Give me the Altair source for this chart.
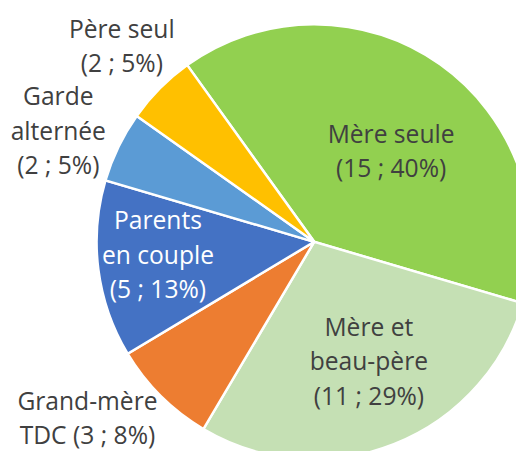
import altair as alt
import pandas as pd

categories = ["Mère seule", "Mère et beau-père", "Grand-mère TDC", "Parents en couple", "Garde alternée", "Père seul"]
label_names = ["Mère seule", "Mère et\nbeau-père", "Grand-mère\nTDC", "Parents\nen couple", "Garde\nalternée", "Père seul"]
counts = [15, 11, 3, 5, 2, 2]
percents = [40, 29, 8, 13, 5, 5]
colors = ["#92D050", "#C5E0B4", "#ED7D31", "#4472C4", "#5B9BD5", "#FFC000"]

labels = []
for name, c, p in zip(label_names, counts, percents):
    if name == "Grand-mère\nTDC":
        labels.append(f"Grand-mère\nTDC ({c} ; {p}%)")
    else:
        labels.append(f"{name}\n({c} ; {p}%)")

df = pd.DataFrame({
    "cat": categories,
    "n": counts,
    "idx": list(range(len(categories))),
    "label": labels,
})

PI = 3.141592653589793
start = -35.7 * PI / 180
total = sum(counts)
theta_scale = alt.Scale(domain=[0, total], range=[start, start + 2 * PI], nice=False, zero=False)

CX, CY, R = 311, 234, 221
FONT = "Open Sans"
FS = 25

base = alt.Chart(df).transform_window(
    cum="sum(n)", sort=[alt.SortField("idx")], frame=[None, 0]
).transform_calculate(
    t0="datum.cum - datum.n", tmid="datum.cum - datum.n / 2"
)

pie = base.mark_arc(radius=R, stroke="white", strokeWidth=2.5).encode(
    theta=alt.Theta("t0:Q", scale=theta_scale),
    theta2="cum:Q",
    x=alt.value(CX),
    y=alt.value(CY),
    color=alt.Color("cat:N", scale=alt.Scale(domain=categories, range=colors), legend=None),
)

def text_layer(cat, radius, dx, dy, color="#404040"):
    return base.transform_filter(alt.datum.cat == cat).mark_text(
        radius=radius, dx=dx, dy=dy, font=FONT, fontSize=FS, lineBreak="\n",
        lineHeight=35, align="center", baseline="middle", color=color,
    ).encode(
        theta=alt.Theta("tmid:Q", scale=theta_scale),
        x=alt.value(CX), y=alt.value(CY), text="label:N",
    )

layers = [
    pie,
    text_layer("Mère seule", 116, 11, -14),
    text_layer("Mère et beau-père", 138, 5, -41),
    text_layer("Parents en couple", 159, -1, -41, color="white"),
    text_layer("Grand-mère TDC", 260, -47, -22),
    text_layer("Garde alternée", 260, -26, -33),
    text_layer("Père seul", 260, -11, -32),
]

chart = alt.layer(*layers).properties(
    width=516, height=443, padding=0,
    autosize=alt.AutoSizeParams(type="none"),
).configure_view(stroke=None)

chart.save("out.html", embed_options={"renderer": "svg", "actions": False})
